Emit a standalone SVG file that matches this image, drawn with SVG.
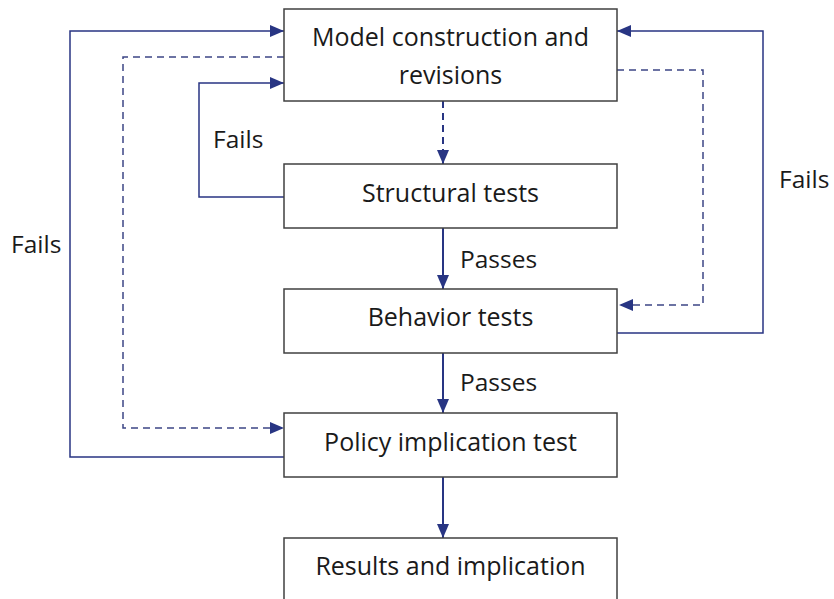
<svg xmlns="http://www.w3.org/2000/svg" width="834" height="599" viewBox="0 0 834 599">
<defs>
<marker id="ah" markerWidth="14" markerHeight="12" refX="14" refY="6" orient="auto" markerUnits="userSpaceOnUse">
<path d="M0,0 L14,6 L0,12 Z" fill="#283583"/>
</marker>
</defs>
<style>
.box{fill:#fff;stroke:#404040;stroke-width:1.5}
.t{font-family:"Open Sans","Liberation Sans",sans-serif;font-size:25px;fill:#1a1a1a;text-anchor:middle}
.l{font-family:"Open Sans","Liberation Sans",sans-serif;font-size:24.5px;fill:#1a1a1a}
.c{fill:none;stroke:#283583;stroke-width:1.5}
.a{stroke-width:2}
.d{stroke-dasharray:7,5;stroke:#3c4585}
</style>
<rect width="834" height="599" fill="#fff"/>
<g id="connectors">
<path class="c a" d="M443,101 V164" style="stroke-dasharray:7,5" marker-end="url(#ah)"/>
<path class="c a" d="M443,228 V289" marker-end="url(#ah)"/>
<path class="c a" d="M443,353 V413" marker-end="url(#ah)"/>
<path class="c a" d="M443,477 V538" marker-end="url(#ah)"/>
<path class="c" d="M284,197 H199 V83 H284" marker-end="url(#ah)"/>
<path class="c" d="M284,457 H70 V31 H284" marker-end="url(#ah)"/>
<path class="c d" d="M284,57 H123 V428 H284" marker-end="url(#ah)"/>
<path class="c" d="M617,333 H763 V31 H617" marker-end="url(#ah)"/>
<path class="c d" d="M617,70 H703 V305 H619" marker-end="url(#ah)"/>
<text class="l" x="213" y="148">Fails</text>
<text class="l" x="11" y="253">Fails</text>
<text class="l" x="779" y="188">Fails</text>
<text class="l" x="460" y="268">Passes</text>
<text class="l" x="460" y="391">Passes</text>
</g>
<g id="model">
<rect class="box" x="284" y="9" width="333" height="92"/>
<text class="t" x="450.5" y="46">Model construction and</text>
<text class="t" x="450.5" y="84">revisions</text>
</g>
<g id="structural">
<rect class="box" x="284" y="164" width="333" height="64"/>
<text class="t" x="450.5" y="202">Structural tests</text>
</g>
<g id="behavior">
<rect class="box" x="284" y="289" width="333" height="64"/>
<text class="t" x="450.5" y="326">Behavior tests</text>
</g>
<g id="policy">
<rect class="box" x="284" y="413" width="333" height="64"/>
<text class="t" x="450.5" y="451">Policy implication test</text>
</g>
<g id="results">
<rect class="box" x="284" y="538" width="333" height="70"/>
<text class="t" x="450.5" y="575">Results and implication</text>
</g>
</svg>
